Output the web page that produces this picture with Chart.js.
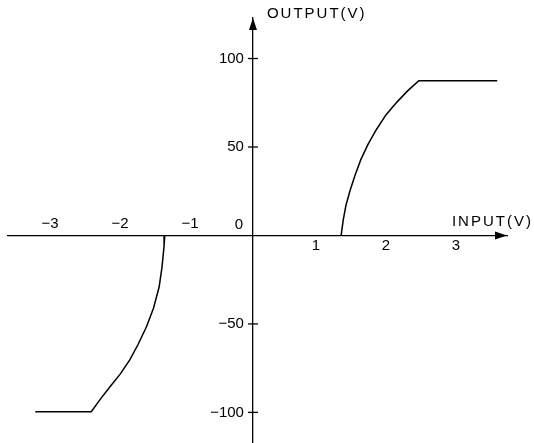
<!DOCTYPE html>
<html>
<head>
<meta charset="utf-8">
<script src="https://cdn.jsdelivr.net/npm/chart.js@4/dist/chart.umd.min.js"></script>
<style>
  html, body { margin: 0; padding: 0; background: #fff; }
</style>
</head>
<body>
<canvas id="transfer" width="534" height="443"></canvas>
<script>
// transfer curve, positive and negative branches (input V -> output V)
const posInput = [1.26, 1.29, 1.33, 1.39, 1.46, 1.54, 1.64, 1.76, 1.9, 2.06, 2.21, 2.37, 3.49];
const posOutput = [0, 8.8, 17.2, 25.7, 34.2, 42.7, 51.2, 59.6, 68.1, 75.5, 81.7, 87.5, 87.5];
const negInput = [-1.26, -1.27, -1.3, -1.34, -1.42, -1.52, -1.64, -1.76, -1.9, -2.04, -2.18, -2.31, -3.11];
const negOutput = [0, -6, -18, -29, -41, -51.5, -61.5, -70.3, -78.5, -85.4, -92.5, -99.6, -99.6];

const xTickValues = [-3, -2, -1, 0, 1, 2, 3];
const xTickLabels = ["−3", "−2", "−1", "0", "1", "2", "3"];
const yTickValues = [100, 50, -50, -100];
const yTickLabels = ["100", "50", "−50", "−100"];

const INK = "#000";
const FONT = '15px "Liberation Sans"';

function toPoints(xs, ys) {
  return xs.map((x, i) => ({ x, y: ys[i] }));
}

// arrowheads, tick marks, tick labels and axis titles
const axisDecor = {
  id: "axisDecor",
  afterDraw(chart) {
    const { ctx, chartArea, scales } = chart;
    const x0 = scales.x.getPixelForValue(0);
    const y0 = scales.y.getPixelForValue(0);
    ctx.save();
    ctx.fillStyle = INK;
    ctx.strokeStyle = INK;
    ctx.lineWidth = 1.3;

    ctx.beginPath();
    ctx.moveTo(chartArea.right, y0);
    ctx.lineTo(chartArea.right - 12, y0 - 4);
    ctx.lineTo(chartArea.right - 12, y0 + 4);
    ctx.closePath();
    ctx.fill();

    ctx.beginPath();
    ctx.moveTo(x0, chartArea.top);
    ctx.lineTo(x0 - 4, chartArea.top + 12);
    ctx.lineTo(x0 + 4, chartArea.top + 12);
    ctx.closePath();
    ctx.fill();

    ctx.font = FONT;
    ctx.textAlign = "right";
    ctx.textBaseline = "middle";
    yTickValues.forEach((v, i) => {
      const py = scales.y.getPixelForValue(v);
      ctx.beginPath();
      ctx.moveTo(x0 - 5, py);
      ctx.lineTo(x0 + 5, py);
      ctx.stroke();
      ctx.fillText(yTickLabels[i], x0 - 9, py);
    });

    ctx.textAlign = "center";
    xTickValues.forEach((v, i) => {
      const px = scales.x.getPixelForValue(v);
      if (v < 0) {
        ctx.fillText(xTickLabels[i], px + 7, y0 - 12);
      } else if (v === 0) {
        ctx.fillText(xTickLabels[i], px - 14, y0 - 11);
      } else {
        ctx.fillText(xTickLabels[i], px - 7, y0 + 10);
      }
    });

    ctx.textAlign = "left";
    ctx.letterSpacing = "2px";
    ctx.fillText("OUTPUT(V)", x0 + 14, chartArea.top - 4);
    ctx.fillText("INPUT(V)", x0 + 199, y0 - 14);
    ctx.restore();
  },
};

new Chart(document.getElementById("transfer"), {
  type: "scatter",
  data: {
    datasets: [
      {
        data: toPoints(posInput, posOutput),
        showLine: true,
        borderColor: INK,
        borderWidth: 1.5,
        pointRadius: 0,
      },
      {
        data: toPoints(negInput, negOutput),
        showLine: true,
        borderColor: INK,
        borderWidth: 1.5,
        pointRadius: 0,
      },
    ],
  },
  options: {
    responsive: false,
    animation: false,
    devicePixelRatio: 1,
    layout: { padding: { left: 8, right: 27, top: 18, bottom: 0 } },
    plugins: {
      legend: { display: false },
      tooltip: { enabled: false },
    },
    scales: {
      x: {
        type: "linear",
        min: -3.5,
        max: 3.63,
        position: { y: 0 },
        grid: { display: false },
        ticks: { display: false },
        border: { display: true, color: INK, width: 1.3 },
      },
      y: {
        type: "linear",
        min: -117.3,
        max: 122.9,
        position: { x: 0 },
        grid: { display: false },
        ticks: { display: false },
        border: { display: true, color: INK, width: 1.3 },
      },
    },
  },
  plugins: [axisDecor],
});
</script>
</body>
</html>
